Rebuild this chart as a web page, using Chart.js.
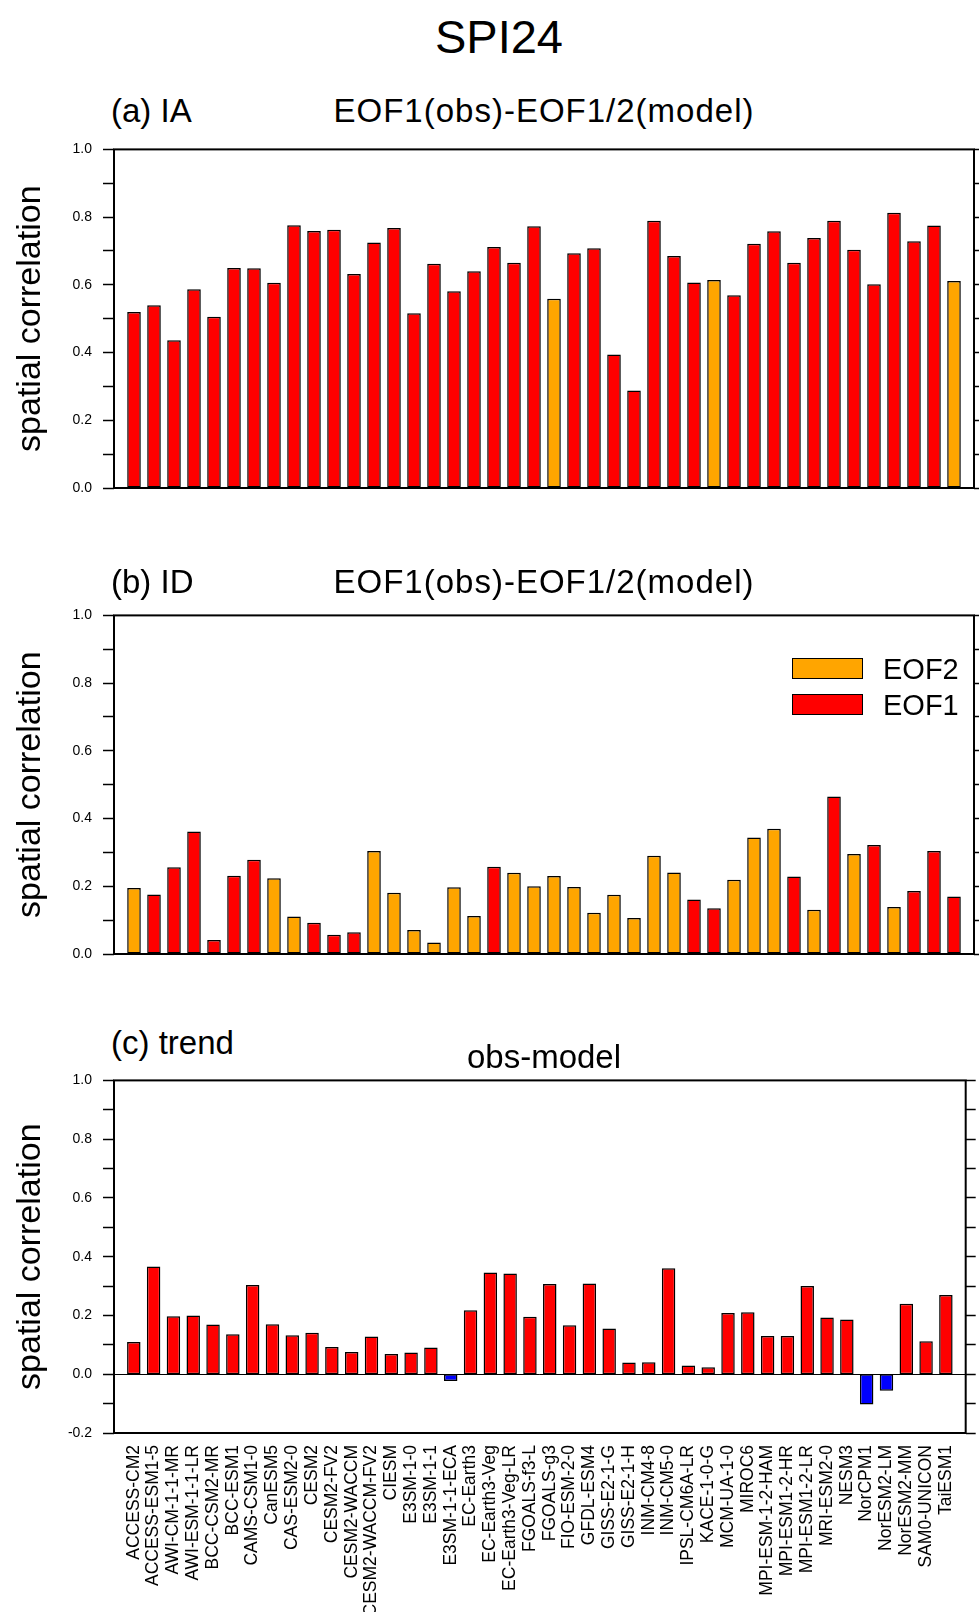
<!DOCTYPE html>
<html>
<head>
<meta charset="utf-8">
<title>SPI24</title>
<script src="https://cdn.jsdelivr.net/npm/chart.js@4.4.1/dist/chart.umd.min.js"></script>
<style>
  body { margin: 0; background: #fff; }
  #page { position: relative; width: 979px; height: 1612px; overflow: hidden; background: #fff;
          font-family: "Liberation Sans", Arial, Helvetica, sans-serif; color: #000; }
  canvas { position: absolute; left: 0; }
  .txt { position: absolute; white-space: nowrap; line-height: 1; z-index: 2; }
  .center { transform: translateX(-50%); }
  .panel { font-size: 33px; }
  .key { position: absolute; box-sizing: border-box; border: 1.5px solid #000; width: 71px; height: 21px; z-index: 2; }
  .keytxt { font-size: 29px; }
</style>
</head>
<body>
<div id="page">
  <div class="txt center" style="left:499px; top:13px; font-size:47px;">SPI24</div>

  <div class="txt panel" style="left:111px; top:94px;">(a) IA</div>
  <div class="txt panel center" style="left:544px; top:94px; letter-spacing:1px;">EOF1(obs)-EOF1/2(model)</div>

  <div class="txt panel" style="left:111px; top:565px;">(b) ID</div>
  <div class="txt panel center" style="left:544px; top:565px; letter-spacing:1px;">EOF1(obs)-EOF1/2(model)</div>

  <div class="txt panel" style="left:111px; top:1026px;">(c) trend</div>
  <div class="txt panel center" style="left:544px; top:1040px;">obs-model</div>

  <div class="key" style="left:792px; top:658px; background:#ffa500;"></div>
  <div class="txt keytxt" style="left:883px; top:655px;">EOF2</div>
  <div class="key" style="left:792px; top:694px; background:#ff0000;"></div>
  <div class="txt keytxt" style="left:883px; top:691px;">EOF1</div>

  <canvas id="chartA" width="979" height="390" style="top:130px"></canvas>
  <canvas id="chartB" width="979" height="390" style="top:596px"></canvas>
  <canvas id="chartC" width="979" height="551" style="top:1061px"></canvas>
</div>
<script>
const models = [
  'ACCESS-CM2', 'ACCESS-ESM1-5', 'AWI-CM-1-1-MR', 'AWI-ESM-1-1-LR', 'BCC-CSM2-MR', 'BCC-ESM1',
  'CAMS-CSM1-0', 'CanESM5', 'CAS-ESM2-0', 'CESM2', 'CESM2-FV2', 'CESM2-WACCM', 'CESM2-WACCM-FV2',
  'CIESM', 'E3SM-1-0', 'E3SM-1-1', 'E3SM-1-1-ECA', 'EC-Earth3', 'EC-Earth3-Veg', 'EC-Earth3-Veg-LR',
  'FGOALS-f3-L', 'FGOALS-g3', 'FIO-ESM-2-0', 'GFDL-ESM4', 'GISS-E2-1-G', 'GISS-E2-1-H', 'INM-CM4-8',
  'INM-CM5-0', 'IPSL-CM6A-LR', 'KACE-1-0-G', 'MCM-UA-1-0', 'MIROC6', 'MPI-ESM-1-2-HAM', 'MPI-ESM1-2-HR',
  'MPI-ESM1-2-LR', 'MRI-ESM2-0', 'NESM3', 'NorCPM1', 'NorESM2-LM', 'NorESM2-MM', 'SAM0-UNICON', 'TaiESM1'
];

// (a) IA: correlation and which model EOF matched (1 or 2)
const iaValues = [0.520, 0.540, 0.436, 0.587, 0.506, 0.650, 0.649, 0.606, 0.776, 0.759, 0.763, 0.632,
  0.725, 0.768, 0.516, 0.662, 0.581, 0.640, 0.712, 0.665, 0.773, 0.559, 0.693, 0.708, 0.394, 0.288,
  0.789, 0.685, 0.607, 0.614, 0.569, 0.721, 0.758, 0.665, 0.738, 0.789, 0.704, 0.602, 0.813, 0.729,
  0.775, 0.611];
const iaEof = [1, 1, 1, 1, 1, 1, 1, 1, 1, 1, 1, 1, 1, 1, 1, 1, 1, 1, 1, 1, 1, 2,
  1, 1, 1, 1, 1, 1, 1, 2, 1, 1, 1, 1, 1, 1, 1, 1, 1, 1, 1, 2];

// (b) ID
const idValues = [0.195, 0.176, 0.256, 0.362, 0.041, 0.231, 0.278, 0.224, 0.111, 0.092, 0.057, 0.064,
  0.304, 0.181, 0.071, 0.034, 0.197, 0.112, 0.258, 0.240, 0.200, 0.230, 0.198, 0.122, 0.175, 0.106,
  0.290, 0.241, 0.161, 0.135, 0.219, 0.344, 0.370, 0.229, 0.131, 0.465, 0.295, 0.322, 0.139, 0.186,
  0.304, 0.170];
const idEof = [2, 1, 1, 1, 1, 1, 1, 2, 2, 1, 1, 1, 2, 2, 2, 2, 2, 2, 1, 2, 2, 2,
  2, 2, 2, 2, 2, 2, 1, 1, 2, 2, 2, 1, 2, 1, 2, 1, 2, 1, 1, 1];

// (c) trend
const trendValues = [0.110, 0.367, 0.197, 0.200, 0.169, 0.136, 0.304, 0.170, 0.133, 0.141, 0.093, 0.076,
  0.128, 0.069, 0.074, 0.091, -0.023, 0.218, 0.346, 0.343, 0.196, 0.307, 0.167, 0.309, 0.156, 0.040,
  0.041, 0.361, 0.030, 0.024, 0.208, 0.211, 0.130, 0.130, 0.300, 0.193, 0.186, -0.103, -0.056, 0.240,
  0.112, 0.270];

const RED = '#ff0000', ORANGE = '#ffa500', BLUE = '#0000ff';
const FONT = '"Liberation Sans", Arial, Helvetica, sans-serif';

// black box round the plot area
const framePlugin = {
  id: 'frame',
  afterDatasetsDraw(chart) {
    const { ctx, chartArea: a } = chart;
    ctx.save();
    ctx.strokeStyle = '#000';
    ctx.lineWidth = 2;
    ctx.strokeRect(a.left, a.top, a.right - a.left, a.bottom - a.top);
    ctx.restore();
  }
};

// labels only every 0.2, minor ticks every 0.05
function yLabel(v) {
  const r = Math.round(v * 100);
  return r % 20 === 0 ? (r / 100).toFixed(1) : '';
}

function eofDatasets(values, eof) {
  const pts = values.map((v, i) => ({ x: i, y: v }));
  return [
    { label: 'EOF1', backgroundColor: RED, data: pts.filter(p => eof[p.x] === 1) },
    { label: 'EOF2', backgroundColor: ORANGE, data: pts.filter(p => eof[p.x] === 2) }
  ];
}

function makePanel(id, datasets, yMin, showX, bottomSpace) {
  return new Chart(document.getElementById(id), {
    type: 'bar',
    data: { datasets: datasets },
    plugins: [framePlugin],
    options: {
      responsive: false,
      animation: false,
      devicePixelRatio: 1,
      layout: { padding: { top: 12, bottom: showX ? 0 : bottomSpace, left: 0, right: 0 } },
      plugins: { legend: { display: false }, tooltip: { enabled: false } },
      datasets: {
        bar: {
          grouped: false, barPercentage: 0.68, categoryPercentage: 1,
          borderColor: '#000', borderWidth: 1.5, borderSkipped: false
        }
      },
      scales: {
        x: {
          type: 'linear', min: -1, max: models.length, offset: false,
          display: showX,
          afterBuildTicks: s => { s.ticks = models.map((m, i) => ({ value: i })); },
          afterFit: s => { s.height = bottomSpace; },
          grid: { drawOnChartArea: false, drawTicks: false },
          border: { display: false },
          ticks: {
            autoSkip: false, maxRotation: 90, minRotation: 90, padding: 12, color: '#000',
            font: { family: FONT, size: 17.5 },
            callback: v => models[v] ?? ''
          }
        },
        y: {
          min: yMin, max: 1, position: 'left',
          afterFit: s => { s.width = 114; },
          border: { display: false },
          grid: {
            drawOnChartArea: yMin < 0,
            color: c => (c.tick && Math.abs(c.tick.value) < 1e-9 ? '#000' : 'rgba(0,0,0,0)'),
            lineWidth: 1, tickColor: '#000', tickLength: 11, tickWidth: 1.5
          },
          ticks: { stepSize: 0.05, callback: yLabel, padding: 11, color: '#000', font: { family: FONT, size: 14 } },
          title: {
            display: true, text: 'spatial correlation', color: '#000',
            font: { family: FONT, size: 34 }, padding: { top: 10, bottom: 0 }
          }
        },
        y2: {
          axis: 'y', min: yMin, max: 1, position: 'right',
          afterFit: s => { s.width = 5; },
          border: { display: false },
          grid: { drawOnChartArea: false, tickColor: '#000', tickLength: 10, tickWidth: 1.5 },
          ticks: { stepSize: 0.05, callback: () => '', padding: 0 }
        }
      }
    }
  });
}

makePanel('chartA', eofDatasets(iaValues, iaEof), 0, false, 16);
makePanel('chartB', eofDatasets(idValues, idEof), 0, false, 16);
makePanel('chartC', [{
  label: 'trend',
  backgroundColor: trendValues.map(v => (v < 0 ? BLUE : RED)),
  data: trendValues.map((v, i) => ({ x: i, y: v }))
}], -0.2, true, 179);
</script>
</body>
</html>
